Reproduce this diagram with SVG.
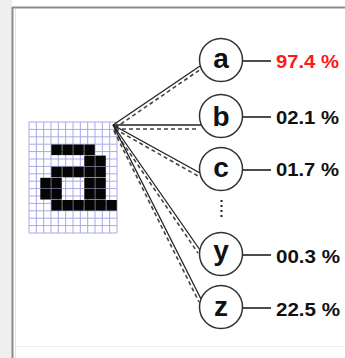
<svg xmlns="http://www.w3.org/2000/svg" width="345" height="358" viewBox="0 0 345 358">
<style>
.node circle{fill:#fff;stroke:#333;stroke-width:1.5}
.letter{font-family:"Liberation Sans",Arial,sans-serif;font-weight:bold;font-size:28px;fill:#111;text-anchor:middle}
.pct{font-family:"Liberation Sans",Arial,sans-serif;font-weight:bold;font-size:18.5px;fill:#111}
.tick{stroke:#111;stroke-width:1.5}
.solid{stroke:#222;stroke-width:1.3;fill:none}
.dash{stroke:#444;stroke-width:1.6;fill:none;stroke-dasharray:4 3}
.grid line{stroke:#a8a8e6;stroke-width:1}
.px{fill:#050505}
</style>
<rect x="0" y="0" width="345" height="358" fill="#fff"/>
<rect x="0" y="0" width="12" height="358" fill="#efefef"/>
<line x1="12.5" y1="7" x2="12.5" y2="358" stroke="#8a8a8a" stroke-width="2"/>
<line x1="12" y1="7.5" x2="345" y2="7.5" stroke="#8a8a8a" stroke-width="2"/>
<line x1="15.5" y1="9" x2="15.5" y2="358" stroke="#e4e4e4" stroke-width="1"/>
<line x1="14" y1="346.5" x2="345" y2="346.5" stroke="#ececec" stroke-width="1"/>

<g id="bitmap">
  <g class="grid">
    <line x1="29" y1="122" x2="29" y2="233"/><line x1="36.33" y1="122" x2="36.33" y2="233"/><line x1="43.67" y1="122" x2="43.67" y2="233"/><line x1="51" y1="122" x2="51" y2="233"/><line x1="58.33" y1="122" x2="58.33" y2="233"/><line x1="65.67" y1="122" x2="65.67" y2="233"/><line x1="73" y1="122" x2="73" y2="233"/><line x1="80.33" y1="122" x2="80.33" y2="233"/><line x1="87.67" y1="122" x2="87.67" y2="233"/><line x1="95" y1="122" x2="95" y2="233"/><line x1="102.33" y1="122" x2="102.33" y2="233"/><line x1="109.67" y1="122" x2="109.67" y2="233"/><line x1="117" y1="122" x2="117" y2="233"/>
    <line x1="29" y1="122" x2="117" y2="122"/><line x1="29" y1="129.4" x2="117" y2="129.4"/><line x1="29" y1="136.8" x2="117" y2="136.8"/><line x1="29" y1="144.2" x2="117" y2="144.2"/><line x1="29" y1="151.6" x2="117" y2="151.6"/><line x1="29" y1="159" x2="117" y2="159"/><line x1="29" y1="166.4" x2="117" y2="166.4"/><line x1="29" y1="173.8" x2="117" y2="173.8"/><line x1="29" y1="181.2" x2="117" y2="181.2"/><line x1="29" y1="188.6" x2="117" y2="188.6"/><line x1="29" y1="196" x2="117" y2="196"/><line x1="29" y1="203.4" x2="117" y2="203.4"/><line x1="29" y1="210.8" x2="117" y2="210.8"/><line x1="29" y1="218.2" x2="117" y2="218.2"/><line x1="29" y1="225.6" x2="117" y2="225.6"/><line x1="29" y1="233" x2="117" y2="233"/>
  </g>
  <g class="px">
    <rect x="51.3" y="144.5" width="10.5" height="10.6"/><rect x="62.3" y="144.5" width="10.5" height="10.6"/><rect x="73.3" y="144.5" width="10.5" height="10.6"/><rect x="84.3" y="144.5" width="10.5" height="10.6"/>
    <rect x="84.3" y="155.6" width="10.5" height="10.6"/><rect x="95.3" y="155.6" width="10.5" height="10.6"/>
    <rect x="51.3" y="166.7" width="10.5" height="10.6"/><rect x="62.3" y="166.7" width="10.5" height="10.6"/><rect x="73.3" y="166.7" width="10.5" height="10.6"/><rect x="84.3" y="166.7" width="10.5" height="10.6"/><rect x="95.3" y="166.7" width="10.5" height="10.6"/>
    <rect x="40.3" y="177.8" width="10.5" height="10.6"/><rect x="51.3" y="177.8" width="10.5" height="10.6"/><rect x="84.3" y="177.8" width="10.5" height="10.6"/><rect x="95.3" y="177.8" width="10.5" height="10.6"/>
    <rect x="40.3" y="188.9" width="10.5" height="10.6"/><rect x="51.3" y="188.9" width="10.5" height="10.6"/><rect x="84.3" y="188.9" width="10.5" height="10.6"/><rect x="95.3" y="188.9" width="10.5" height="10.6"/>
    <rect x="51.3" y="200" width="10.5" height="10.6"/><rect x="62.3" y="200" width="10.5" height="10.6"/><rect x="73.3" y="200" width="10.5" height="10.6"/><rect x="84.3" y="200" width="10.5" height="10.6"/><rect x="95.3" y="200" width="10.5" height="10.6"/><rect x="106.3" y="200" width="10.5" height="10.6"/>
  </g>
</g>

<g id="connectors">
  <line class="solid" x1="113" y1="125" x2="200" y2="66"/>
  <line class="dash" x1="115" y1="128" x2="201" y2="69"/>
  <line class="solid" x1="113" y1="125" x2="201" y2="125"/>
  <line class="dash" x1="115" y1="129" x2="199" y2="129"/>
  <line class="solid" x1="113" y1="125" x2="200" y2="173"/>
  <line class="dash" x1="115" y1="129" x2="198" y2="176"/>
  <line class="solid" x1="113" y1="125" x2="200" y2="250"/>
  <line class="dash" x1="114" y1="130" x2="198" y2="253"/>
  <line class="solid" x1="113" y1="125" x2="201" y2="299"/>
  <line class="dash" x1="114" y1="131" x2="199" y2="302"/>
  <line class="tick" x1="243" y1="61" x2="271" y2="61"/>
  <line class="tick" x1="243" y1="117" x2="271" y2="117"/>
  <line class="tick" x1="243" y1="170" x2="271" y2="170"/>
  <line class="tick" x1="243" y1="255" x2="271" y2="255"/>
  <line class="tick" x1="243" y1="308" x2="271" y2="308"/>
  <line x1="221.5" y1="200" x2="221.5" y2="220" stroke="#222" stroke-width="2" stroke-dasharray="2 3"/>
</g>

<g id="node-a" class="node"><circle cx="221" cy="60" r="21.5"/><text class="letter" x="221" y="68">a</text><text class="pct" x="276" y="68" style="fill:#ff1a1a" textLength="63" lengthAdjust="spacingAndGlyphs">97.4 %</text></g>
<g id="node-b" class="node"><circle cx="221" cy="116" r="21.5"/><text class="letter" x="221" y="126">b</text><text class="pct" x="276" y="124" textLength="63" lengthAdjust="spacingAndGlyphs">02.1 %</text></g>
<g id="node-c" class="node"><circle cx="221" cy="169" r="21.5"/><text class="letter" x="221" y="177">c</text><text class="pct" x="276" y="176" textLength="63" lengthAdjust="spacingAndGlyphs">01.7 %</text></g>
<g id="node-y" class="node"><circle cx="221" cy="254" r="21.5"/><text class="letter" x="221" y="260">y</text><text class="pct" x="276" y="263" textLength="64" lengthAdjust="spacingAndGlyphs">00.3 %</text></g>
<g id="node-z" class="node"><circle cx="221" cy="307" r="21.5"/><text class="letter" x="221" y="316">z</text><text class="pct" x="276" y="316" textLength="64" lengthAdjust="spacingAndGlyphs">22.5 %</text></g>
</svg>
